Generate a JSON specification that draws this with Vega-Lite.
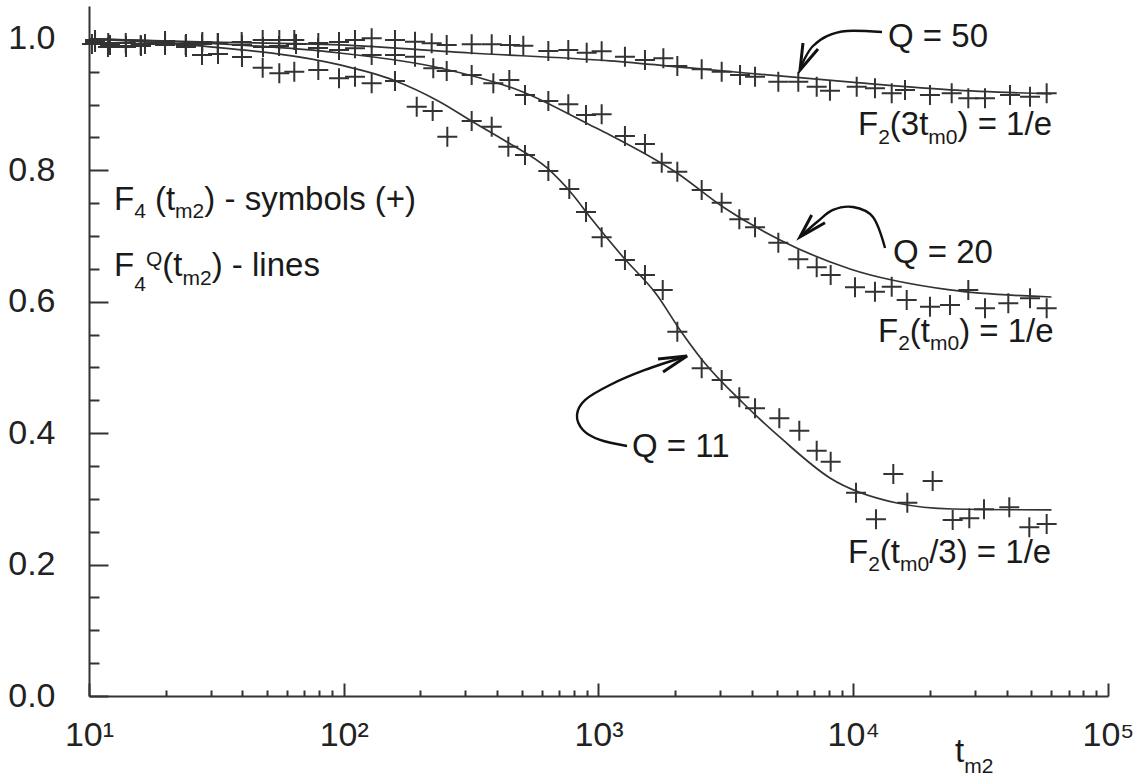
{
  "$schema": "https://vega.github.io/schema/vega-lite/v6.json",
  "width": 1019,
  "height": 690,
  "autosize": {"type": "none"},
  "padding": {"left": 89, "top": 6, "right": 31, "bottom": 80},
  "background": "white",
  "config": {
    "view": {"stroke": null},
    "font": "Liberation Sans",
    "axis": {"grid": false, "title": null, "domainColor": "#333333", "tickColor": "#333333", "labelColor": "#222222", "domainWidth": 2, "tickWidth": 2, "labelFont": "Liberation Sans", "labelFontSize": 34}
  },
  "datasets": {
    "curves": [
      {"Q": 50, "t": 10, "v": 1.0}, {"Q": 50, "t": 27.3, "v": 0.9953}, {"Q": 50, "t": 96.6, "v": 0.9907}, {"Q": 50, "t": 313, "v": 0.9785}, {"Q": 50, "t": 1109, "v": 0.9664}, {"Q": 50, "t": 2286, "v": 0.9557}, {"Q": 50, "t": 10620, "v": 0.9329}, {"Q": 50, "t": 23970, "v": 0.9224}, {"Q": 50, "t": 60000, "v": 0.9163},
      {"Q": 20, "t": 10, "v": 1.0}, {"Q": 20, "t": 27.3, "v": 0.9938}, {"Q": 20, "t": 96.6, "v": 0.9785}, {"Q": 20, "t": 238.7, "v": 0.9557}, {"Q": 20, "t": 505.3, "v": 0.9192}, {"Q": 20, "t": 926, "v": 0.869}, {"Q": 20, "t": 1109, "v": 0.8538}, {"Q": 20, "t": 2033, "v": 0.7959}, {"Q": 20, "t": 3081, "v": 0.7442}, {"Q": 20, "t": 5158, "v": 0.694}, {"Q": 20, "t": 9710, "v": 0.6498}, {"Q": 20, "t": 23980, "v": 0.6179}, {"Q": 20, "t": 60000, "v": 0.6072},
      {"Q": 11, "t": 10, "v": 1.0}, {"Q": 11, "t": 27.3, "v": 0.9892}, {"Q": 11, "t": 96.6, "v": 0.9603}, {"Q": 11, "t": 156.1, "v": 0.9374}, {"Q": 11, "t": 238.7, "v": 0.904}, {"Q": 11, "t": 321.7, "v": 0.8735}, {"Q": 11, "t": 437.2, "v": 0.8431}, {"Q": 11, "t": 627.9, "v": 0.8035}, {"Q": 11, "t": 794.1, "v": 0.7624}, {"Q": 11, "t": 926, "v": 0.7289}, {"Q": 11, "t": 1248, "v": 0.668}, {"Q": 11, "t": 1696, "v": 0.6103}, {"Q": 11, "t": 2089, "v": 0.557}, {"Q": 11, "t": 2572, "v": 0.5098}, {"Q": 11, "t": 3692, "v": 0.4459}, {"Q": 11, "t": 5299, "v": 0.3896}, {"Q": 11, "t": 8102, "v": 0.3318}, {"Q": 11, "t": 14850, "v": 0.2937}, {"Q": 11, "t": 24640, "v": 0.2846}, {"Q": 11, "t": 60000, "v": 0.2831}
    ],
    "symbols": [
      {"Q": 50, "t": 10.56, "v": 0.9983}, {"Q": 50, "t": 11.9, "v": 0.9938}, {"Q": 50, "t": 13.94, "v": 0.9938}, {"Q": 50, "t": 15.95, "v": 0.9907}, {"Q": 50, "t": 19.88, "v": 0.9938}, {"Q": 50, "t": 23.96, "v": 0.9907}, {"Q": 50, "t": 27.85, "v": 0.9953}, {"Q": 50, "t": 32.0, "v": 0.9938}, {"Q": 50, "t": 39.75, "v": 0.9953}, {"Q": 50, "t": 48.06, "v": 0.9983}, {"Q": 50, "t": 55.85, "v": 0.9983}, {"Q": 50, "t": 63.95, "v": 0.9983}, {"Q": 50, "t": 79.45, "v": 0.9938}, {"Q": 50, "t": 95.8, "v": 0.9953}, {"Q": 50, "t": 110.7, "v": 0.9983}, {"Q": 50, "t": 128.7, "v": 1.0009}, {"Q": 50, "t": 158.9, "v": 0.9983}, {"Q": 50, "t": 190.4, "v": 0.9957}, {"Q": 50, "t": 221.4, "v": 0.9933}, {"Q": 50, "t": 253.6, "v": 0.9907}, {"Q": 50, "t": 317.8, "v": 0.9918}, {"Q": 50, "t": 380.9, "v": 0.9918}, {"Q": 50, "t": 449.4, "v": 0.9907}, {"Q": 50, "t": 506.8, "v": 0.9896}, {"Q": 50, "t": 635.4, "v": 0.9816}, {"Q": 50, "t": 761.1, "v": 0.9831}, {"Q": 50, "t": 898.8, "v": 0.979}, {"Q": 50, "t": 1029, "v": 0.9811}, {"Q": 50, "t": 1270, "v": 0.9729}, {"Q": 50, "t": 1522, "v": 0.9679}, {"Q": 50, "t": 1797, "v": 0.9705}, {"Q": 50, "t": 2039, "v": 0.9588}, {"Q": 50, "t": 2541, "v": 0.9537}, {"Q": 50, "t": 3045, "v": 0.9501}, {"Q": 50, "t": 3594, "v": 0.945}, {"Q": 50, "t": 4116, "v": 0.9425}, {"Q": 50, "t": 5080, "v": 0.9349}, {"Q": 50, "t": 6085, "v": 0.9349}, {"Q": 50, "t": 7186, "v": 0.9273}, {"Q": 50, "t": 8102, "v": 0.9212}, {"Q": 50, "t": 10317, "v": 0.9273}, {"Q": 50, "t": 12170, "v": 0.9248}, {"Q": 50, "t": 14157, "v": 0.9172}, {"Q": 50, "t": 15964, "v": 0.9222}, {"Q": 50, "t": 20006, "v": 0.9146}, {"Q": 50, "t": 24345, "v": 0.9172}, {"Q": 50, "t": 28291, "v": 0.9096}, {"Q": 50, "t": 32898, "v": 0.9096}, {"Q": 50, "t": 41237, "v": 0.9146}, {"Q": 50, "t": 49414, "v": 0.912}, {"Q": 50, "t": 57441, "v": 0.9172},
      {"Q": 20, "t": 10.56, "v": 0.9953}, {"Q": 20, "t": 12.09, "v": 0.9907}, {"Q": 20, "t": 13.97, "v": 0.9892}, {"Q": 20, "t": 16.59, "v": 0.9922}, {"Q": 20, "t": 19.88, "v": 0.9968}, {"Q": 20, "t": 24.03, "v": 0.9877}, {"Q": 20, "t": 27.77, "v": 0.9922}, {"Q": 20, "t": 32.09, "v": 0.9938}, {"Q": 20, "t": 39.86, "v": 0.9907}, {"Q": 20, "t": 48.19, "v": 0.9877}, {"Q": 20, "t": 55.7, "v": 0.9892}, {"Q": 20, "t": 64.95, "v": 0.9922}, {"Q": 20, "t": 79.24, "v": 0.9861}, {"Q": 20, "t": 95.8, "v": 0.9831}, {"Q": 20, "t": 110.7, "v": 0.9857}, {"Q": 20, "t": 128.7, "v": 0.9755}, {"Q": 20, "t": 158.9, "v": 0.9755}, {"Q": 20, "t": 190.4, "v": 0.9729}, {"Q": 20, "t": 224.6, "v": 0.9553}, {"Q": 20, "t": 253.6, "v": 0.9512}, {"Q": 20, "t": 317.8, "v": 0.9451}, {"Q": 20, "t": 386.5, "v": 0.9324}, {"Q": 20, "t": 446.6, "v": 0.9375}, {"Q": 20, "t": 514.6, "v": 0.9146}, {"Q": 20, "t": 635.4, "v": 0.9055}, {"Q": 20, "t": 761.1, "v": 0.9005}, {"Q": 20, "t": 893.2, "v": 0.8843}, {"Q": 20, "t": 1029, "v": 0.8853}, {"Q": 20, "t": 1270, "v": 0.8522}, {"Q": 20, "t": 1522, "v": 0.8401}, {"Q": 20, "t": 1771, "v": 0.8116}, {"Q": 20, "t": 2039, "v": 0.7979}, {"Q": 20, "t": 2541, "v": 0.7701}, {"Q": 20, "t": 3045, "v": 0.7507}, {"Q": 20, "t": 3571, "v": 0.7255}, {"Q": 20, "t": 4116, "v": 0.7133}, {"Q": 20, "t": 5080, "v": 0.6898}, {"Q": 20, "t": 6085, "v": 0.6646}, {"Q": 20, "t": 7186, "v": 0.6524}, {"Q": 20, "t": 8154, "v": 0.6407}, {"Q": 20, "t": 10159, "v": 0.622}, {"Q": 20, "t": 12170, "v": 0.6153}, {"Q": 20, "t": 14157, "v": 0.6229}, {"Q": 20, "t": 16211, "v": 0.6027}, {"Q": 20, "t": 20006, "v": 0.5925}, {"Q": 20, "t": 23976, "v": 0.595}, {"Q": 20, "t": 28291, "v": 0.6179}, {"Q": 20, "t": 32898, "v": 0.59}, {"Q": 20, "t": 40610, "v": 0.5976}, {"Q": 20, "t": 49414, "v": 0.6052}, {"Q": 20, "t": 57441, "v": 0.59},
      {"Q": 11, "t": 10.27, "v": 0.9922}, {"Q": 11, "t": 11.87, "v": 0.9877}, {"Q": 11, "t": 13.97, "v": 0.9877}, {"Q": 11, "t": 16.0, "v": 0.9892}, {"Q": 11, "t": 19.88, "v": 0.9907}, {"Q": 11, "t": 24.03, "v": 0.9922}, {"Q": 11, "t": 27.77, "v": 0.9755}, {"Q": 11, "t": 32.09, "v": 0.977}, {"Q": 11, "t": 39.86, "v": 0.9724}, {"Q": 11, "t": 48.06, "v": 0.9562}, {"Q": 11, "t": 55.85, "v": 0.9477}, {"Q": 11, "t": 63.95, "v": 0.9501}, {"Q": 11, "t": 79.45, "v": 0.9527}, {"Q": 11, "t": 95.8, "v": 0.94}, {"Q": 11, "t": 110.7, "v": 0.9425}, {"Q": 11, "t": 128.7, "v": 0.9324}, {"Q": 11, "t": 158.9, "v": 0.9359}, {"Q": 11, "t": 193.4, "v": 0.8968}, {"Q": 11, "t": 223.4, "v": 0.8903}, {"Q": 11, "t": 255.0, "v": 0.8512}, {"Q": 11, "t": 317.8, "v": 0.8751}, {"Q": 11, "t": 380.9, "v": 0.8664}, {"Q": 11, "t": 442.6, "v": 0.836}, {"Q": 11, "t": 514.6, "v": 0.8233}, {"Q": 11, "t": 635.4, "v": 0.799}, {"Q": 11, "t": 768.0, "v": 0.7716}, {"Q": 11, "t": 893.2, "v": 0.7366}, {"Q": 11, "t": 1029, "v": 0.6981}, {"Q": 11, "t": 1270, "v": 0.6635}, {"Q": 11, "t": 1522, "v": 0.6407}, {"Q": 11, "t": 1787, "v": 0.6179}, {"Q": 11, "t": 2039, "v": 0.5544}, {"Q": 11, "t": 2541, "v": 0.4987}, {"Q": 11, "t": 3045, "v": 0.4809}, {"Q": 11, "t": 3571, "v": 0.4546}, {"Q": 11, "t": 4116, "v": 0.4378}, {"Q": 11, "t": 5126, "v": 0.4226}, {"Q": 11, "t": 6141, "v": 0.4037}, {"Q": 11, "t": 7186, "v": 0.3733}, {"Q": 11, "t": 8154, "v": 0.3566}, {"Q": 11, "t": 10252, "v": 0.3094}, {"Q": 11, "t": 12281, "v": 0.2689}, {"Q": 11, "t": 14363, "v": 0.3379}, {"Q": 11, "t": 16300, "v": 0.2942}, {"Q": 11, "t": 20500, "v": 0.3272}, {"Q": 11, "t": 24565, "v": 0.2678}, {"Q": 11, "t": 28547, "v": 0.2704}, {"Q": 11, "t": 32603, "v": 0.2841}, {"Q": 11, "t": 40977, "v": 0.2872}, {"Q": 11, "t": 49102, "v": 0.2567}, {"Q": 11, "t": 57441, "v": 0.2618}
    ],
    "arrows": [
      {"arrow": "a50", "i": 1, "t": 12971, "v": 1.0104}, {"arrow": "a50", "i": 2, "t": 9451, "v": 1.012}, {"arrow": "a50", "i": 3, "t": 7886, "v": 1.0043}, {"arrow": "a50", "i": 4, "t": 6950, "v": 0.9891}, {"arrow": "a50", "i": 5, "t": 6466, "v": 0.9709}, {"arrow": "a50", "i": 6, "t": 6180, "v": 0.9526},
      {"arrow": "a20", "i": 1, "t": 13330, "v": 0.6817}, {"arrow": "a20", "i": 2, "t": 11950, "v": 0.7289}, {"arrow": "a20", "i": 3, "t": 9977, "v": 0.7441}, {"arrow": "a20", "i": 4, "t": 8326, "v": 0.7396}, {"arrow": "a20", "i": 5, "t": 7207, "v": 0.7213}, {"arrow": "a20", "i": 6, "t": 6180, "v": 0.6985},
      {"arrow": "a11", "i": 1, "t": 1294, "v": 0.3804}, {"arrow": "a11", "i": 2, "t": 1014, "v": 0.3896}, {"arrow": "a11", "i": 3, "t": 869.3, "v": 0.4048}, {"arrow": "a11", "i": 4, "t": 823.4, "v": 0.4276}, {"arrow": "a11", "i": 5, "t": 885.1, "v": 0.4504}, {"arrow": "a11", "i": 6, "t": 1109, "v": 0.4733}, {"arrow": "a11", "i": 7, "t": 1522, "v": 0.4961}, {"arrow": "a11", "i": 8, "t": 2226, "v": 0.5174}
    ],
    "heads": [
      {"arrow": "a50", "i": 1, "t": 6349, "v": 0.9937}, {"arrow": "a50", "i": 2, "t": 6180, "v": 0.9526}, {"arrow": "a50", "i": 3, "t": 7272, "v": 0.9846},
      {"arrow": "a20", "i": 1, "t": 6868, "v": 0.732}, {"arrow": "a20", "i": 2, "t": 6180, "v": 0.6985}, {"arrow": "a20", "i": 3, "t": 7746, "v": 0.7202},
      {"arrow": "a11", "i": 1, "t": 1712, "v": 0.5128}, {"arrow": "a11", "i": 2, "t": 2226, "v": 0.5174}, {"arrow": "a11", "i": 3, "t": 1792, "v": 0.493}
    ],
    "ann_main": [
      {"t": 12.536, "v": 0.7396, "text": "F"}, {"t": 18.158, "v": 0.7396, "text": "(t"}, {"t": 28.358, "v": 0.7396, "text": ") - symbols (+)"},
      {"t": 12.536, "v": 0.6391, "text": "F"}, {"t": 19.398, "v": 0.6391, "text": "(t"}, {"t": 30.313, "v": 0.6391, "text": ") - lines"},
      {"t": 13690, "v": 0.9876, "text": "Q = 50"}, {"t": 14322, "v": 0.6589, "text": "Q = 20"}, {"t": 1353.6, "v": 0.3637, "text": "Q = 11"},
      {"t": 10439, "v": 0.8537, "text": "F"}, {"t": 13914, "v": 0.8537, "text": "(3t"}, {"t": 25664, "v": 0.8537, "text": ") = 1/e"},
      {"t": 12508, "v": 0.5387, "text": "F"}, {"t": 16674, "v": 0.5387, "text": "(t"}, {"t": 26038, "v": 0.5387, "text": ") = 1/e"},
      {"t": 9537, "v": 0.2024, "text": "F"}, {"t": 12712, "v": 0.2024, "text": "(t"}, {"t": 19866, "v": 0.2024, "text": "/3) = 1/e"},
      {"t": 25090, "v": -0.1004, "text": "t"}
    ],
    "ann_small": [
      {"t": 15.045, "v": 0.7274, "text": "4"}, {"t": 21.776, "v": 0.7274, "text": "m2"},
      {"t": 15.045, "v": 0.6163, "text": "4"}, {"t": 16.739, "v": 0.6543, "text": "Q"}, {"t": 23.284, "v": 0.6254, "text": "m2"},
      {"t": 12530, "v": 0.84, "text": "2"}, {"t": 19706, "v": 0.84, "text": "m0"},
      {"t": 15014, "v": 0.5265, "text": "2"}, {"t": 20012, "v": 0.5265, "text": "m0"},
      {"t": 11445, "v": 0.1902, "text": "2"}, {"t": 15260, "v": 0.1902, "text": "m0"},
      {"t": 27260, "v": -0.1172, "text": "m2"}
    ]
  },
  "layer": [
    {
      "data": {"name": "curves"},
      "mark": {"type": "line", "interpolate": "monotone", "color": "#333333", "strokeWidth": 1.7},
      "encoding": {
        "x": {"field": "t", "type": "quantitative", "scale": {"type": "log", "domain": [10, 100000], "nice": false},
          "axis": {"orient": "bottom", "values": [10, 100, 1000, 10000, 100000], "ticks": false, "domain": false, "labelPadding": 22, "labelFlush": false, "labelOverlap": false, "labelBound": false,
            "labelExpr": "'10' + (datum.value == 10 ? '¹' : datum.value == 100 ? '²' : datum.value == 1000 ? '³' : datum.value == 10000 ? '⁴' : '⁵')"}},
        "y": {"field": "v", "type": "quantitative", "scale": {"domain": [0, 1.05], "nice": false, "zero": false},
          "axis": {"orient": "left", "values": [0, 0.2, 0.4, 0.6, 0.8, 1.0], "format": ".1f", "ticks": false, "domain": false, "labelPadding": 34, "labelFlush": false, "labelOverlap": false}},
        "detail": {"field": "Q", "type": "nominal"}
      }
    },
    {
      "data": {"name": "symbols"},
      "mark": {"type": "point", "shape": "M-1,0L1,0M0,-1L0,1", "size": 400, "filled": false, "strokeWidth": 2, "color": "#333333", "opacity": 1},
      "encoding": {
        "x": {"field": "t", "type": "quantitative", "scale": {"type": "log", "domain": [10, 100000], "nice": false},
          "axis": {"orient": "bottom", "values": [10, 100, 1000, 10000, 100000], "labels": false, "domain": true, "tickSize": -13}},
        "y": {"field": "v", "type": "quantitative", "scale": {"domain": [0, 1.05], "nice": false, "zero": false},
          "axis": {"orient": "left", "values": [0, 0.2, 0.4, 0.6, 0.8, 1.0], "labels": false, "domain": true, "tickSize": -19}}
      }
    },
    {
      "data": {"name": "arrows"},
      "mark": {"type": "line", "interpolate": "cardinal", "color": "#111111", "strokeWidth": 2.4},
      "encoding": {
        "x": {"field": "t", "type": "quantitative", "scale": {"type": "log", "domain": [10, 100000], "nice": false},
          "axis": {"orient": "bottom", "values": [20, 30, 40, 50, 60, 70, 80, 90, 200, 300, 400, 500, 600, 700, 800, 900, 2000, 3000, 4000, 5000, 6000, 7000, 8000, 9000, 20000, 30000, 40000, 50000, 60000, 70000, 80000, 90000], "labels": false, "domain": false, "tickSize": -6}},
        "y": {"field": "v", "type": "quantitative", "scale": {"domain": [0, 1.05], "nice": false, "zero": false},
          "axis": {"orient": "left", "values": [0.05, 0.1, 0.15, 0.25, 0.3, 0.35, 0.45, 0.5, 0.55, 0.65, 0.7, 0.75, 0.85, 0.9, 0.95], "labels": false, "domain": false, "tickSize": -10}},
        "detail": {"field": "arrow", "type": "nominal"},
        "order": {"field": "i", "type": "quantitative"}
      }
    },
    {
      "data": {"name": "heads"},
      "mark": {"type": "line", "color": "#111111", "strokeWidth": 3, "strokeJoin": "miter"},
      "encoding": {
        "x": {"field": "t", "type": "quantitative", "scale": {"type": "log", "domain": [10, 100000], "nice": false}, "axis": null},
        "y": {"field": "v", "type": "quantitative", "scale": {"domain": [0, 1.05], "nice": false, "zero": false}, "axis": null},
        "detail": {"field": "arrow", "type": "nominal"},
        "order": {"field": "i", "type": "quantitative"}
      }
    },
    {
      "data": {"name": "ann_main"},
      "mark": {"type": "text", "align": "left", "baseline": "alphabetic", "fontSize": 33, "font": "Liberation Sans", "color": "#1a1a1a"},
      "encoding": {
        "x": {"field": "t", "type": "quantitative", "scale": {"type": "log", "domain": [10, 100000], "nice": false}, "axis": null},
        "y": {"field": "v", "type": "quantitative", "scale": {"domain": [0, 1.05], "nice": false, "zero": false}, "axis": null},
        "text": {"field": "text"}
      }
    },
    {
      "data": {"name": "ann_small"},
      "mark": {"type": "text", "align": "left", "baseline": "alphabetic", "fontSize": 21, "font": "Liberation Sans", "color": "#1a1a1a"},
      "encoding": {
        "x": {"field": "t", "type": "quantitative", "scale": {"type": "log", "domain": [10, 100000], "nice": false}, "axis": null},
        "y": {"field": "v", "type": "quantitative", "scale": {"domain": [0, 1.05], "nice": false, "zero": false}, "axis": null},
        "text": {"field": "text"}
      }
    }
  ],
  "resolve": {"axis": {"x": "independent", "y": "independent"}}
}
